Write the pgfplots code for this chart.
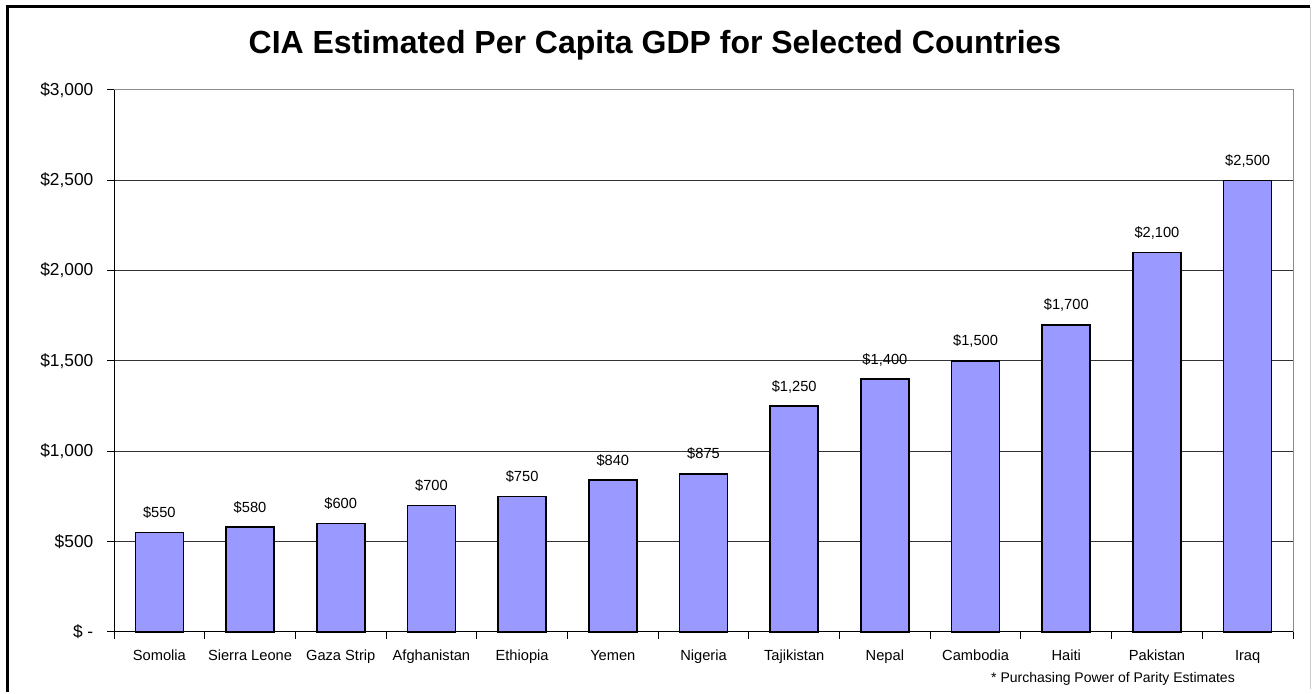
\documentclass[border=0pt]{standalone}
\usepackage{fontspec}
\setmainfont{Liberation Sans}
\usepackage{pgfplots}
\pgfplotsset{compat=1.18}
\definecolor{barfill}{HTML}{9999FF}
\begin{document}
\begin{tikzpicture}[x=1pt,y=1pt]
% canvas 1312x689 px at 0.75pt/px
\fill[white] (0,0) rectangle (984,516.75);
\draw[black,line width=2.25pt] (5.25,-2) -- (5.25,511.5) -- (982.5,511.5);
\draw[black!20,line width=0.75pt] (982.9,511.5) -- (982.9,0);
\node[font=\bfseries\fontsize{24}{28}\selectfont] at (491.25,482.5) {CIA Estimated Per Capita GDP for Selected Countries};
\node[anchor=base,inner sep=0pt,font=\fontsize{10.5}{12}\selectfont] at (834.75,4.5) {* Purchasing Power of Parity Estimates};
\begin{axis}[
  at={(85.5pt,42.75pt)}, anchor=south west,
  scale only axis, width=884.25pt, height=406.5pt,
  ymin=0, ymax=3000, xmin=-0.5, xmax=12.5,
  ybar, bar width=36pt,
  axis line style={draw=black!45, line width=0.75pt},
  ytick={0,500,...,3000},
  yticklabels={{\$ -}, {\$500}, {\$1,000}, {\$1,500}, {\$2,000}, {\$2,500}, {\$3,000}},
  yticklabel style={font=\fontsize{13}{15}\selectfont, xshift=-7pt},
  xtick={0,...,12},
  xticklabels={Somolia, Sierra Leone, Gaza Strip, Afghanistan, Ethiopia, Yemen, Nigeria, Tajikistan, Nepal, Cambodia, Haiti, Pakistan, Iraq},
  xticklabel style={font=\fontsize{11}{13}\selectfont, yshift=-5pt},
  major x tick style={draw=none},
  minor xtick={-0.5,0.5,...,12.5},
  xtick pos=bottom, ytick pos=left,
  tick align=outside,
  major tick length=5pt, minor tick length=5pt,
  tick style={black, line width=0.75pt},
  ymajorgrids, major grid style={draw=black!80, line width=0.75pt},
  nodes near coords={\$\pgfmathprintnumber[assume math mode=true,1000 sep={,}]{\pgfplotspointmeta}},
  every node near coord/.append style={font=\fontsize{11}{13}\selectfont, anchor=base, yshift=11.25pt, inner sep=0pt},
  clip=false,
]
\addplot[fill=barfill, draw=black, line width=1.2pt] coordinates {
(0,550) (1,580) (2,600) (3,700) (4,750) (5,840) (6,875) (7,1250) (8,1400) (9,1500) (10,1700) (11,2100) (12,2500)};
\draw[black, line width=0.75pt] (rel axis cs:0,1) -- (rel axis cs:0,0) -- (rel axis cs:1,0);
\end{axis}
\end{tikzpicture}
\end{document}
